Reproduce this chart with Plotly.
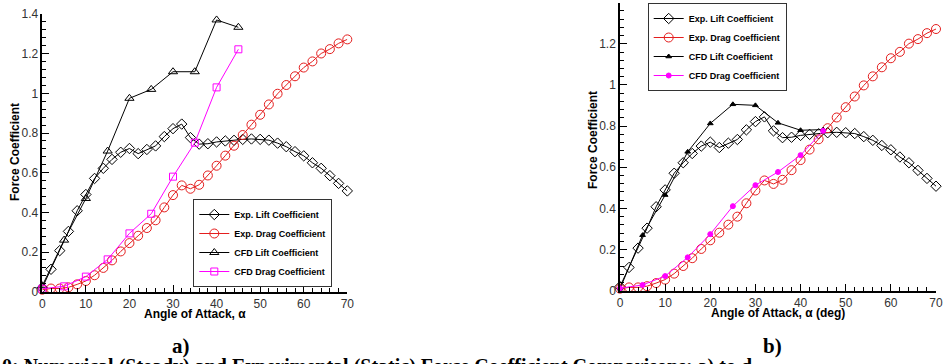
import plotly.graph_objects as go

# ---------------- data ----------------
aoa_exp = [0, 2, 4, 6, 8, 10, 12, 14, 16, 18, 20, 22, 24, 26, 28, 30, 32, 34,
           36, 38, 40, 42, 44, 46, 48, 50, 52, 54, 56, 58, 60, 62, 64, 66, 68, 70]
exp_lift = [0.02, 0.113, 0.207, 0.304, 0.408, 0.49, 0.571, 0.622, 0.667, 0.703,
            0.722, 0.696, 0.717, 0.735, 0.782, 0.822, 0.845, 0.777, 0.744, 0.746,
            0.755, 0.760, 0.763, 0.768, 0.770, 0.768, 0.764, 0.749, 0.731, 0.706,
            0.685, 0.650, 0.622, 0.585, 0.546, 0.508]
exp_drag = [0.01, 0.016, 0.016, 0.022, 0.037, 0.054, 0.083, 0.12, 0.158, 0.203,
            0.245, 0.282, 0.321, 0.36, 0.425, 0.487, 0.536, 0.519, 0.539, 0.586,
            0.635, 0.686, 0.736, 0.79, 0.842, 0.892, 0.944, 0.998, 1.042, 1.086,
            1.13, 1.161, 1.201, 1.223, 1.252, 1.272]

aoa_cfd = [0, 5, 10, 15, 20, 25, 30, 35, 40, 45]
cfd_lift_a = [0.03, 0.26, 0.47, 0.709, 0.975, 1.02, 1.109, 1.109, 1.37, 1.333]
cfd_drag_a = [0.015, 0.027, 0.076, 0.163, 0.294, 0.393, 0.58, 0.751, 1.03, 1.222]
cfd_lift_b = [0.01, 0.27, 0.465, 0.675, 0.813, 0.906, 0.901, 0.816, 0.78, 0.783]
cfd_drag_b = [0.012, 0.028, 0.071, 0.162, 0.275, 0.411, 0.513, 0.577, 0.659, 0.777]

names = ["Exp. Lift Coefficient", "Exp. Drag Coefficient",
         "CFD Lift Coefficient", "CFD Drag Coefficient"]
x_ticks = [0, 10, 20, 30, 40, 50, 60, 70]
y_ticks = [0, 0.2, 0.4, 0.6, 0.8, 1, 1.2, 1.4]

# ---------------- style ----------------
W, H = 943, 364
BLACK = "#000000"
RED = "#e41e1e"
MAG = "#ff00ff"
SANS = "Liberation Sans, Arial, sans-serif"
SERIF = "Liberation Serif, Times New Roman, serif"

fig = go.Figure()


def add(x, y, name, color, symbol, size, xa, ya, leg, lw=1.0):
    fig.add_trace(go.Scatter(
        x=x, y=y, name=name, mode="lines+markers",
        line=dict(color=color, width=lw),
        marker=dict(symbol=symbol, size=size, color=color,
                    line=dict(color=color, width=1)),
        xaxis=xa, yaxis=ya, legend=leg, cliponaxis=False))


# panel a)
add(aoa_exp, exp_lift, names[0], BLACK, "diamond-open", 8, "x", "y", "legend")
add(aoa_exp, exp_drag, names[1], RED, "circle-open", 9, "x", "y", "legend")
add(aoa_cfd, cfd_lift_a, names[2], BLACK, "triangle-up-open", 8, "x", "y", "legend")
add(aoa_cfd, cfd_drag_a, names[3], MAG, "square-open", 7, "x", "y", "legend")
# panel b)
add(aoa_exp, exp_lift, names[0], BLACK, "diamond-open", 8, "x2", "y2", "legend2")
add(aoa_exp, exp_drag, names[1], RED, "circle-open", 9, "x2", "y2", "legend2")
add(aoa_cfd, cfd_lift_b, names[2], BLACK, "triangle-up", 5, "x2", "y2", "legend2")
add(aoa_cfd, cfd_drag_b, names[3], MAG, "circle", 5, "x2", "y2", "legend2")


def px_x(p):
    return p / W


def px_y(p):
    return (H - p) / H


def axis_common(dom, rng, ticks, minor_dt, anchor):
    return dict(
        domain=dom, range=rng, anchor=anchor, automargin=False,
        tickmode="array", tickvals=ticks,
        showline=True, linecolor=BLACK, linewidth=1.5, mirror=False,
        ticks="inside", ticklen=7, tickwidth=1.2, tickcolor=BLACK,
        minor=dict(dtick=minor_dt, ticks="inside", ticklen=4,
                   tickwidth=1, tickcolor=BLACK),
        showgrid=False, zeroline=False,
        tickfont=dict(family=SANS, size=12, color="#333333"),
        fixedrange=True,
    )


xa = axis_common([px_x(42.3), px_x(347.3)], [0, 70], x_ticks, 2, "y")
ya = axis_common([px_y(291.7), px_y(14)], [0, 1.4], y_ticks, 0.04, "x")
xa2 = axis_common([px_x(620), px_x(936)], [0, 70], x_ticks, 2, "y2")
ya2 = axis_common([px_y(290.7), px_y(2.7)], [0, 1.4], y_ticks, 0.04, "x2")

legend_common = dict(
    bgcolor="white", bordercolor="#333333", borderwidth=1,
    font=dict(family=SANS, size=9, color=BLACK, weight="bold"),
    tracegroupgap=0,
)

title_font = dict(family=SANS, size=12, color=BLACK, weight="bold")
annotations = [
    dict(text="Angle of Attack, α", x=px_x(195), y=px_y(313.5),
         xref="paper", yref="paper", showarrow=False, font=title_font,
         xanchor="center", yanchor="middle"),
    dict(text="Angle of Attack, α (deg)", x=px_x(778), y=px_y(312.5),
         xref="paper", yref="paper", showarrow=False, font=title_font,
         xanchor="center", yanchor="middle"),
    dict(text="Force Coefficient", x=px_x(15), y=px_y(152),
         xref="paper", yref="paper", showarrow=False, font=title_font,
         textangle=-90, xanchor="center", yanchor="middle"),
    dict(text="Force Coefficient", x=px_x(593), y=px_y(140),
         xref="paper", yref="paper", showarrow=False, font=title_font,
         textangle=-90, xanchor="center", yanchor="middle"),
    dict(text="a)", x=px_x(181), y=px_y(346),
         xref="paper", yref="paper", showarrow=False,
         font=dict(family=SERIF, size=21, color=BLACK, weight="bold"),
         xanchor="center", yanchor="middle"),
    dict(text="b)", x=px_x(772), y=px_y(346),
         xref="paper", yref="paper", showarrow=False,
         font=dict(family=SERIF, size=21, color=BLACK, weight="bold"),
         xanchor="center", yanchor="middle"),
    dict(text="0: Numerical (Steady) and Experimental (Static) Force Coefficient "
              "Comparisons: a) to d",
         x=0, y=px_y(353), xref="paper", yref="paper", showarrow=False,
         font=dict(family=SERIF, size=20, color=BLACK, weight="bold"),
         xanchor="left", yanchor="top"),
]

fig.update_layout(
    width=W, height=H,
    margin=dict(l=0, r=0, t=0, b=0, pad=0, autoexpand=False),
    paper_bgcolor="white", plot_bgcolor="white",
    xaxis=xa, yaxis=ya, xaxis2=xa2, yaxis2=ya2,
    legend=dict(x=px_x(193.3), y=px_y(243), xanchor="left", yanchor="middle",
                **legend_common),
    legend2=dict(x=px_x(647.7), y=px_y(47), xanchor="left", yanchor="middle",
                 **legend_common),
    annotations=annotations,
    showlegend=True,
)

fig.write_html("out.html", config={"displayModeBar": False})
